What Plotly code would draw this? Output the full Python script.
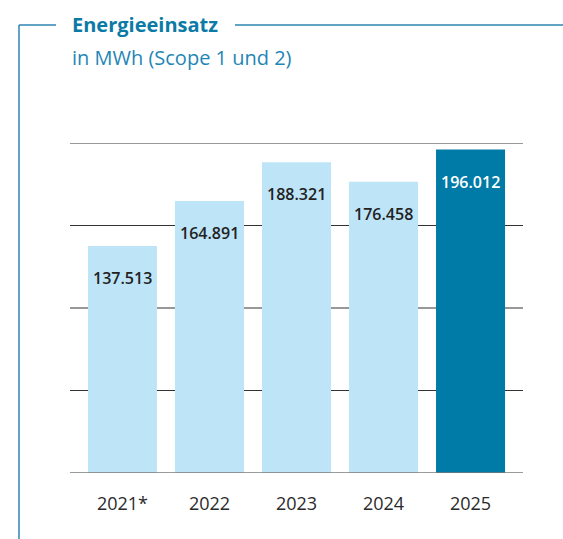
import plotly.graph_objects as go

categories = ["2021*", "2022", "2023", "2024", "2025"]
values = [137513, 164891, 188321, 176458, 196012]
value_labels = ["137.513", "164.891", "188.321", "176.458", "196.012"]
bar_colors = ["#BEE4F8", "#BEE4F8", "#BEE4F8", "#BEE4F8", "#007BA7"]
label_colors = ["#222222", "#222222", "#222222", "#222222", "#FFFFFF"]
grid_values = [50000, 100000, 150000, 200000]

W, H = 563, 539
L, R, T, B = 70, 523, 143, 473

def px(x):
    return (x - L) / (R - L)

def py(y):
    return (B - y) / (B - T)

fig = go.Figure()
fig.add_trace(go.Bar(
    x=list(range(len(categories))), y=values,
    marker=dict(color=bar_colors, line=dict(width=0)),
    width=0.793, hoverinfo="skip",
))

for i, (v, lab, c) in enumerate(zip(values, value_labels, label_colors)):
    fig.add_annotation(x=i, y=v, text=lab, showarrow=False, yshift=-32,
                       font=dict(family="Open Sans", size=16, color=c, weight=600))

shapes = []
for g in grid_values:
    shapes.append(dict(type="line", xref="paper", yref="y", x0=0, x1=1, y0=g, y1=g,
                       line=dict(color="#333333", width=1.2), layer="below"))
shapes.append(dict(type="line", xref="paper", yref="y", x0=0, x1=1, y0=0, y1=0,
                   line=dict(color="#7a7a7a", width=1.5), layer="above"))
frame_color = "#2F86B3"
shapes.append(dict(type="line", xref="paper", yref="paper", x0=px(19), x1=px(19), y0=py(25), y1=py(545),
                   line=dict(color=frame_color, width=1.5)))
shapes.append(dict(type="line", xref="paper", yref="paper", x0=px(19), x1=px(56), y0=py(25), y1=py(25),
                   line=dict(color=frame_color, width=1.5)))
shapes.append(dict(type="line", xref="paper", yref="paper", x0=px(235), x1=px(570), y0=py(25), y1=py(25),
                   line=dict(color=frame_color, width=1.5)))

fig.add_annotation(xref="paper", yref="paper", x=px(70), y=py(25), xanchor="left", yanchor="middle",
                   text="Energieeinsatz", showarrow=False,
                   font=dict(family="Open Sans", size=20, color="#0B7AA6", weight="bold"))
fig.add_annotation(xref="paper", yref="paper", x=px(70), y=py(57), xanchor="left", yanchor="middle",
                   text="in MWh (Scope 1 und 2)", showarrow=False,
                   font=dict(family="Open Sans", size=20, color="#1F86B5"))

fig.update_layout(
    width=W, height=H,
    margin=dict(l=L, r=W - R, t=T, b=H - B, pad=0),
    paper_bgcolor="white", plot_bgcolor="white",
    showlegend=False, shapes=shapes,
    xaxis=dict(tickmode="array", tickvals=list(range(len(categories))), ticktext=categories,
               range=[-0.603, 4.603], showgrid=False, zeroline=False, showline=False,
               ticks="", ticklabelstandoff=18,
               tickfont=dict(family="Open Sans", size=18, color="#2a2a2a")),
    yaxis=dict(range=[0, 200000], showgrid=False, zeroline=False, showline=False,
               showticklabels=False, ticks=""),
)

fig.write_html("out.html", config={"displayModeBar": False},
               post_script="document.body.style.margin='0';document.body.style.overflow='hidden';")
